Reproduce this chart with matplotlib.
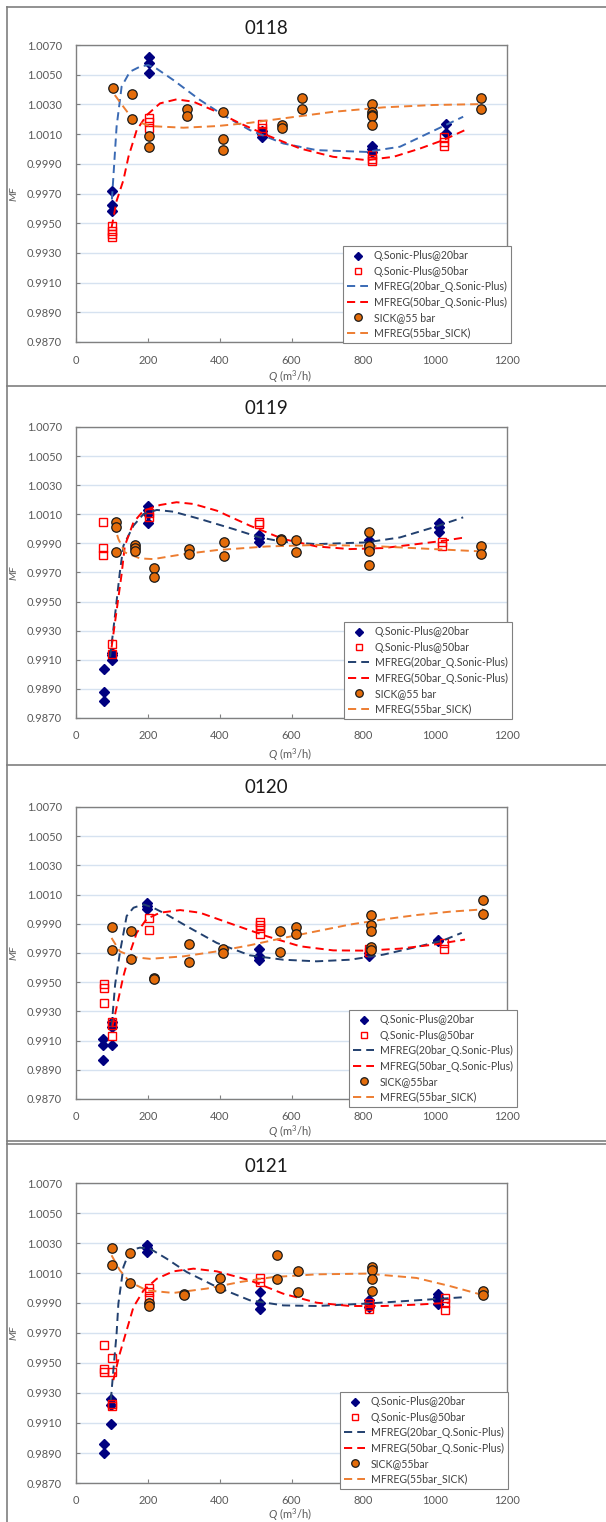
import matplotlib
matplotlib.use("Agg")
import matplotlib.pyplot as plt
from matplotlib.lines import Line2D

plt.rcParams['font.family'] = ['Lato', 'DejaVu Sans']
plt.rcParams['mathtext.fontset'] = 'custom'
plt.rcParams['mathtext.rm'] = 'Lato'
plt.rcParams['mathtext.it'] = 'Lato:italic'

# ---------------- data ----------------
titles = ["0118", "0119", "0120", "0121"]
sick_labels = ["SICK@55 bar", "SICK@55 bar", "SICK@55bar", "SICK@55bar"]
x_ticks = [0, 200, 400, 600, 800, 1000, 1200]
y_ticks = [0.9870, 0.9890, 0.9910, 0.9930, 0.9950, 0.9970, 0.9990, 1.0010, 1.0030, 1.0050, 1.0070]

# Panel 0118
p1_q20 = [99, 99, 99, 203, 203, 203, 517, 517, 517, 823, 823, 823, 1029, 1029]
p1_mf20 = [0.9972, 0.9962, 0.9958, 1.0062, 1.0058, 1.0051, 1.0012, 1.0010, 1.0008, 1.0002, 1.0000, 0.9998, 1.0017, 1.0011]
p1_q50 = [99, 99, 99, 99, 203, 203, 203, 517, 517, 517, 823, 823, 823, 1025, 1025, 1025]
p1_mf50 = [0.9948, 0.9945, 0.9943, 0.9941, 1.0021, 1.0018, 1.0014, 1.0017, 1.0014, 1.0012, 0.9996, 0.9993, 0.9992, 1.0008, 1.0005, 1.0002]
p1_qs = [102, 155, 155, 203, 203, 310, 310, 408, 408, 408, 573, 573, 628, 628, 823, 823, 823, 823, 823, 1129, 1129]
p1_mfs = [1.0041, 1.0037, 1.0020, 1.0009, 1.0001, 1.0027, 1.0022, 1.0025, 1.0007, 0.9999, 1.0016, 1.0014, 1.0034, 1.0027,
          1.0030, 1.0025, 1.0023, 1.0022, 1.0016, 1.0034, 1.0027]
p1_r20_q = [100, 113, 127, 150, 178, 201, 225, 271, 345, 410, 484, 577, 670, 809, 902, 1023, 1078]
p1_r20_mf = [0.9966, 1.0015, 1.0042, 1.0052, 1.00554, 1.00565, 1.0054, 1.00464, 1.0033, 1.00228, 1.00127, 1.00037,
             0.99992, 0.9998, 1.00015, 1.00154, 1.00217]
p1_r50_q = [99, 113, 132, 146, 169, 197, 234, 280, 327, 392, 457, 531, 624, 716, 809, 884, 958, 1023, 1083]
p1_r50_mf = [0.9947, 0.9965, 0.9979, 0.99947, 1.00127, 1.00228, 1.00307, 1.00334, 1.00318, 1.0025, 1.00172, 1.00093,
             1.00003, 0.99947, 0.99925, 0.99947, 1.00003, 1.0006, 1.00127]
p1_rs_q = [108, 132, 160, 206, 299, 392, 484, 577, 716, 856, 995, 1129]
p1_rs_mf = [1.00363, 1.00284, 1.00194, 1.00154, 1.00143, 1.00154, 1.00176, 1.00206, 1.0025, 1.0028, 1.00296, 1.00302]

# Panel 0119
p2_q20 = [78, 78, 78, 100, 100, 100, 200, 200, 200, 200, 510, 510, 510, 815, 815, 815, 1010, 1010, 1010]
p2_mf20 = [0.9904, 0.9888, 0.9882, 0.9910, 0.9913, 0.9915, 1.0016, 1.0013, 1.0010, 1.0004, 0.9996, 0.9994, 0.9991,
           0.9992, 0.9989, 0.9986, 1.0004, 1.0001, 0.9998]
p2_q50 = [76, 76, 76, 100, 100, 203, 203, 510, 510, 815, 815, 1020, 1020]
p2_mf50 = [1.0005, 0.9987, 0.9982, 0.9921, 0.9914, 1.0011, 1.0008, 1.0005, 1.0003, 0.9987, 0.9986, 0.9991, 0.9988]
p2_qs = [110, 110, 110, 163, 163, 163, 216, 216, 315, 315, 411, 411, 571, 571, 612, 612, 815, 815, 815, 815, 1128, 1128]
p2_mfs = [1.0005, 1.0001, 0.9984, 0.9989, 0.9987, 0.9985, 0.9973, 0.9967, 0.9986, 0.9983, 0.9991, 0.9981, 0.9993,
          0.9992, 0.9992, 0.9984, 0.9998, 0.9988, 0.9985, 0.9975, 0.9988, 0.9983]
p2_r20_q = [95, 109, 122, 132, 160, 188, 225, 271, 345, 438, 512, 577, 670, 809, 902, 995, 1078]
p2_r20_mf = [0.9912, 0.99414, 0.9970, 0.99884, 1.00022, 1.00102, 1.0013, 1.00118, 1.00068, 0.99999, 0.99941, 0.99911,
             0.99895, 0.99907, 0.99941, 1.0001, 1.00079]
p2_r50_q = [99, 113, 127, 136, 160, 188, 234, 280, 327, 392, 484, 577, 670, 763, 856, 948, 1023, 1083]
p2_r50_mf = [0.99185, 0.99437, 0.99689, 0.99884, 1.00045, 1.00125, 1.00164, 1.00183, 1.00171, 1.00125, 1.00022,
             0.9993, 0.99879, 0.99861, 0.99868, 0.99895, 0.99918, 0.99941]
p2_rs_q = [104, 118, 136, 178, 215, 299, 392, 531, 670, 809, 995, 1129]
p2_rs_mf = [1.00045, 0.9993, 0.99838, 0.99797, 0.99792, 0.99826, 0.99854, 0.99879, 0.99889, 0.99884, 0.99861, 0.99845]

# Panel 0120
p3_q20 = [76, 76, 76, 100, 100, 100, 199, 199, 199, 510, 510, 510, 510, 815, 815, 1009, 1009]
p3_mf20 = [0.9911, 0.9907, 0.9897, 0.9923, 0.9919, 0.9907, 1.0004, 1.0002, 1.0000, 0.9973, 0.9968, 0.9967, 0.9965,
           0.9968, 0.9970, 0.9979, 0.9978]
p3_q50 = [78, 78, 78, 101, 101, 101, 203, 203, 513, 513, 513, 513, 816, 816, 1025, 1025]
p3_mf50 = [0.9949, 0.9946, 0.9936, 0.9923, 0.9921, 0.9913, 0.9994, 0.9986, 0.9991, 0.9989, 0.9987, 0.9983, 0.9973,
           0.9971, 0.9977, 0.9973]
p3_qs = [100, 100, 152, 152, 217, 217, 314, 314, 410, 410, 568, 568, 613, 613, 820, 820, 820, 820, 820, 1134, 1134]
p3_mfs = [0.9988, 0.9972, 0.9985, 0.9966, 0.9953, 0.9952, 0.9976, 0.9964, 0.9973, 0.9970, 0.9985, 0.9971, 0.9988,
          0.9983, 0.9996, 0.9989, 0.9985, 0.9974, 0.9972, 1.0006, 0.9997]
p3_r20_q = [99, 109, 122, 141, 160, 188, 215, 252, 308, 392, 484, 577, 670, 763, 856, 948, 1023, 1074]
p3_r20_mf = [0.99192, 0.99486, 0.9970, 0.99953, 1.0001, 1.00033, 1.0001, 0.99964, 0.99884, 0.99769, 0.99684, 0.99654,
             0.99643, 0.99654, 0.99689, 0.99741, 0.99787, 0.99838]
p3_r50_q = [101, 113, 132, 150, 169, 197, 234, 290, 345, 438, 531, 624, 716, 809, 902, 995, 1083]
p3_r50_mf = [0.99192, 0.99328, 0.99542, 0.9970, 0.99838, 0.99934, 0.99976, 0.99994, 0.99976, 0.99895, 0.99815,
             0.99746, 0.99718, 0.99716, 0.9973, 0.99757, 0.99792]
p3_rs_q = [99, 122, 160, 206, 299, 392, 484, 577, 670, 763, 856, 948, 1041, 1134]
p3_rs_mf = [0.99803, 0.99711, 0.99672, 0.9966, 0.99677, 0.99711, 0.99753, 0.99803, 0.99849, 0.99895, 0.9993, 0.9996,
            0.99983, 0.99999]

# Panel 0121
p4_q20 = [78, 78, 97, 97, 97, 199, 199, 199, 513, 513, 513, 816, 816, 816, 1009, 1009, 1009, 1009]
p4_mf20 = [0.9896, 0.9890, 0.9926, 0.9922, 0.9909, 1.0029, 1.0027, 1.0024, 0.9997, 0.9990, 0.9986, 0.9992, 0.9990,
           0.9987, 0.9996, 0.9994, 0.9992, 0.9989]
p4_q50 = [78, 78, 78, 100, 100, 100, 100, 203, 203, 203, 513, 513, 816, 816, 816, 1027, 1027, 1027]
p4_mf50 = [0.9962, 0.9946, 0.9944, 0.9953, 0.9944, 0.9923, 0.9921, 1.0000, 0.9997, 0.9993, 1.0007, 1.0004, 0.9990,
           0.9988, 0.9986, 0.9993, 0.9990, 0.9985]
p4_qs = [99, 99, 151, 151, 203, 203, 302, 302, 400, 400, 561, 561, 617, 617, 823, 823, 823, 823, 1134, 1134]
p4_mfs = [1.0027, 1.0015, 1.0023, 1.0003, 0.9990, 0.9988, 0.9996, 0.9995, 1.0007, 1.0000, 1.0022, 1.0006, 1.0011,
          0.9997, 1.0014, 1.0012, 1.0006, 0.9998, 0.9998, 0.9995]
p4_r20_q = [97, 104, 113, 118, 132, 150, 178, 206, 252, 308, 392, 484, 577, 670, 809, 948, 1088]
p4_r20_mf = [0.99253, 0.99452, 0.99696, 0.99896, 1.0014, 1.00251, 1.00269, 1.00262, 1.00196, 1.00107, 1.00007,
             0.99918, 0.99884, 0.9988, 0.99896, 0.99918, 0.9994]
p4_r50_q = [104, 122, 141, 160, 188, 225, 271, 327, 392, 484, 577, 670, 763, 856, 948, 1041]
p4_r50_mf = [0.99386, 0.99563, 0.99718, 0.99873, 0.99984, 1.00062, 1.00111, 1.00129, 1.00111, 1.00051, 0.99962,
             0.99902, 0.9988, 0.9988, 0.99889, 0.99902]
p4_rs_q = [99, 122, 150, 197, 271, 364, 457, 549, 670, 809, 948, 1041, 1125]
p4_rs_mf = [1.00218, 1.00118, 1.0004, 0.99984, 0.99967, 0.99996, 1.0004, 1.00073, 1.00091, 1.00096, 1.00067, 1.00013,
            0.99958]

panels = [
    (p1_q20, p1_mf20, p1_q50, p1_mf50, p1_qs, p1_mfs, p1_r20_q, p1_r20_mf, p1_r50_q, p1_r50_mf, p1_rs_q, p1_rs_mf),
    (p2_q20, p2_mf20, p2_q50, p2_mf50, p2_qs, p2_mfs, p2_r20_q, p2_r20_mf, p2_r50_q, p2_r50_mf, p2_rs_q, p2_rs_mf),
    (p3_q20, p3_mf20, p3_q50, p3_mf50, p3_qs, p3_mfs, p3_r20_q, p3_r20_mf, p3_r50_q, p3_r50_mf, p3_rs_q, p3_rs_mf),
    (p4_q20, p4_mf20, p4_q50, p4_mf50, p4_qs, p4_mfs, p4_r20_q, p4_r20_mf, p4_r50_q, p4_r50_mf, p4_rs_q, p4_rs_mf),
]

# ---------------- layout (pixels) ----------------
W, H = 606, 1522
fig = plt.figure(figsize=(W / 100, H / 100), dpi=100)
fig.patch.set_facecolor('white')

ax_left, ax_right = 76, 507
ax_tb = [(45, 342), (427, 718), (807, 1099), (1183, 1483)]
title_y = [28, 408, 788, 1166]
xlabel_y = [377, 755, 1132, 1515]
legend_box = [(343, 246), (344, 622), (349, 1010), (340, 1392)]
reg20_colors = ['#3a6ab4', '#22406f', '#22406f', '#22406f']

grey_txt = '#595959'
dash = (0, (4.2, 2.6))


def fx(px):
    return px / W


def fy(py):
    return 1 - py / H


for i, data in enumerate(panels):
    (q20, mf20, q50, mf50, qs, mfs, r20q, r20mf, r50q, r50mf, rsq, rsmf) = data
    top, bot = ax_tb[i]
    ax = fig.add_axes([fx(ax_left), fy(bot), (ax_right - ax_left) / W, (bot - top) / H])
    ax.set_xlim(0, 1200)
    ax.set_ylim(0.9870, 1.0070)
    ax.set_xticks(x_ticks)
    ax.set_yticks(y_ticks)
    ax.set_yticklabels([f"{v:.4f}" for v in y_ticks])
    ax.tick_params(axis='both', direction='in', length=3, width=0.8, color='#808080',
                   labelsize=8, labelcolor=grey_txt)
    ax.tick_params(axis='y', pad=10)
    ax.tick_params(axis='x', pad=9)
    for s in ax.spines.values():
        s.set_color('#808080')
        s.set_linewidth(1.0)
    ax.grid(axis='y', color='#d6e2f0', linewidth=1.0)
    ax.set_axisbelow(True)

    h1, = ax.plot(q20, mf20, linestyle='none', marker='D', markersize=4.6, color='#000080',
                  markeredgecolor='#000080', label='Q.Sonic-Plus@20bar', zorder=3)
    h2, = ax.plot(q50, mf50, linestyle='none', marker='s', markersize=6, markerfacecolor='none',
                  markeredgecolor='#ff0000', markeredgewidth=1.0, label='Q.Sonic-Plus@50bar', zorder=3)
    h3, = ax.plot(r20q, r20mf, linestyle=dash, color=reg20_colors[i], linewidth=1.4,
                  label='MFREG(20bar_Q.Sonic-Plus)', zorder=4)
    h4, = ax.plot(r50q, r50mf, linestyle=dash, color='#ff0000', linewidth=1.4,
                  label='MFREG(50bar_Q.Sonic-Plus)', zorder=4)
    h5, = ax.plot(qs, mfs, linestyle='none', marker='o', markersize=6.8, markerfacecolor='#e46c0a',
                  markeredgecolor='#1a1a1a', markeredgewidth=0.9, label=sick_labels[i], zorder=5)
    h6, = ax.plot(rsq, rsmf, linestyle=dash, color='#ed7d31', linewidth=1.4,
                  label='MFREG(55bar_SICK)', zorder=4)

    lx, ly = legend_box[i]
    leg = ax.legend(handles=[h1, h2, h3, h4, h5, h6], loc='upper left',
                    bbox_to_anchor=(fx(lx), fy(ly)), bbox_transform=fig.transFigure,
                    fontsize=7.6, frameon=True, fancybox=False, framealpha=1,
                    edgecolor='#808080', borderpad=0.4, labelspacing=0.42,
                    handlelength=2.0, handletextpad=0.5, borderaxespad=0, markerscale=0.8)
    leg.get_frame().set_linewidth(0.8)
    for t in leg.get_texts():
        t.set_color('#404040')

    ax.set_ylabel('MF', fontsize=7.5, style='italic', color=grey_txt)
    ax.yaxis.set_label_coords((18 - ax_left) / (ax_right - ax_left), 0.5)
    ax.set_xlabel(r'$Q$ (m$^{3}$/h)', fontsize=8, color=grey_txt)
    ax.xaxis.label.set_va('center')
    ax.xaxis.set_label_coords((290 - ax_left) / (ax_right - ax_left), -(xlabel_y[i] - bot) / (bot - top))

    fig.text(fx(266), fy(title_y[i]), titles[i], ha='center', va='center', fontsize=13.5, color='#1a1a1a')

# panel borders
border_c = '#7f7f7f'
fig.add_artist(Line2D([fx(7), fx(7)], [fy(7), fy(1522)], transform=fig.transFigure, color=border_c, lw=1.2))
for yy in [7, 386, 765, 1141, 1144]:
    fig.add_artist(Line2D([fx(7), fx(606)], [fy(yy), fy(yy)], transform=fig.transFigure, color=border_c, lw=1.2))

fig.savefig('out.png', dpi=100, facecolor='white')
